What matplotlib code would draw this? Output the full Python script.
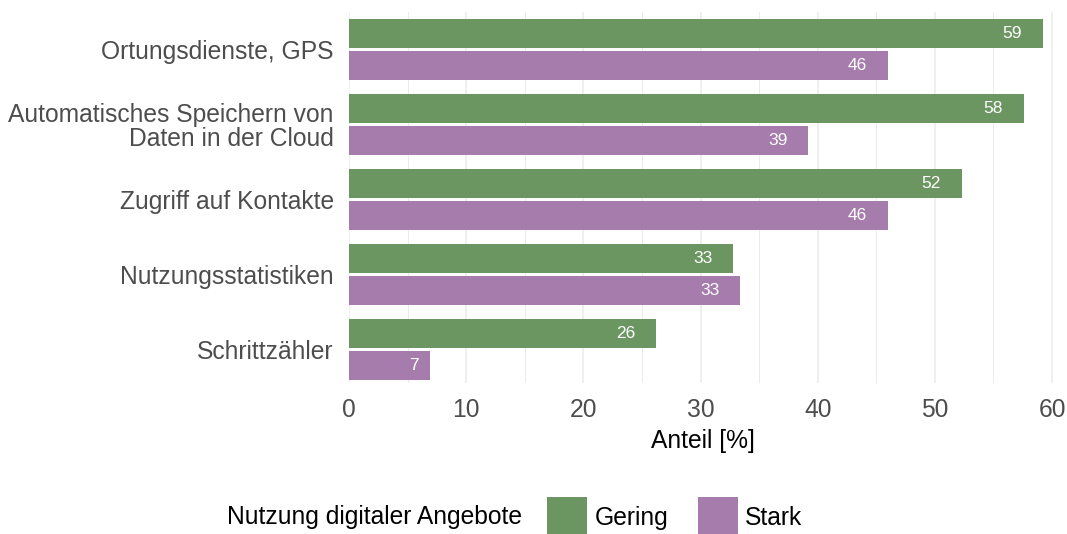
import matplotlib
matplotlib.use("Agg")
import matplotlib.pyplot as plt
from matplotlib.patches import Patch
from matplotlib.ticker import MultipleLocator
import numpy as np

plt.rcParams["font.family"] = ["Liberation Sans", "DejaVu Sans"]

categories = [
    "Ortungsdienste, GPS",
    "Automatisches Speichern von\nDaten in der Cloud",
    "Zugriff auf Kontakte",
    "Nutzungsstatistiken",
    "Schrittzähler",
]
gering = [59.2, 57.6, 52.3, 32.8, 26.2]
stark = [46.0, 39.2, 46.0, 33.4, 6.9]
series_names = ["Gering", "Stark"]
legend_title = "Nutzung digitaler Angebote"

GREEN = "#6b9661"
PURPLE = "#a67cad"
GRID = "#ebebeb"
FS = 17.7


def main():
    fig = plt.figure(figsize=(10.67, 5.34), dpi=100)
    ax = fig.add_axes([349 / 1067, 151 / 534, (1056 - 349) / 1067, (383 - 12) / 534])

    y = np.arange(len(categories))
    off = 0.21
    h = 0.39
    ax.barh(y - off, gering, height=h, color=GREEN, zorder=2)
    ax.barh(y + off, stark, height=h, color=PURPLE, zorder=2)

    ax.set_xlim(0, 60.34)
    ax.set_ylim(4.447, -0.5)

    ax.xaxis.set_major_locator(MultipleLocator(10))
    ax.xaxis.set_minor_locator(MultipleLocator(5))
    ax.grid(axis="x", which="major", color=GRID, lw=1.1, zorder=0)
    ax.grid(axis="x", which="minor", color=GRID, lw=0.7, zorder=0)
    ax.set_axisbelow(True)
    for s in ax.spines.values():
        s.set_visible(False)

    ax.set_yticks(y)
    ax.set_yticklabels(categories, linespacing=1.0)
    ax.tick_params(axis="y", length=0, pad=11, labelsize=FS, labelcolor="#4d4d4d")
    ax.tick_params(axis="x", which="both", length=0, pad=10.7, labelsize=FS, labelcolor="#4d4d4d")
    ax.set_xlabel("Anteil [%]", fontsize=FS, color="black", labelpad=5)

    # value labels inside the bar ends, shifted left by their own width
    texts = []
    for vals, yy in ((gering, y - off), (stark, y + off)):
        for v, yi in zip(vals, yy):
            t = ax.annotate(f"{round(v):d}", xy=(v, yi), xytext=(0, 0),
                            textcoords="offset pixels", ha="right", va="center",
                            color="white", fontsize=12.5)
            texts.append(t)
    fig.canvas.draw()
    renderer = fig.canvas.get_renderer()
    for t in texts:
        w = t.get_window_extent(renderer).width
        t.xyann = (-w - 1.5, 0)

    fig.text(227 / 1067, 17 / 534, legend_title, fontsize=FS, ha="left", va="center")
    handles = [Patch(facecolor=GREEN, edgecolor="none"), Patch(facecolor=PURPLE, edgecolor="none")]
    fig.legend(handles, series_names, loc="center left", bbox_to_anchor=(547 / 1067, 17 / 534),
               ncol=2, frameon=False, fontsize=FS, handlelength=1.63, handleheight=2.12,
               handletextpad=0.3, columnspacing=1.2, borderaxespad=0, borderpad=0)

    fig.savefig("out.png", dpi=100)
    plt.close(fig)


if __name__ == "__main__":
    main()
